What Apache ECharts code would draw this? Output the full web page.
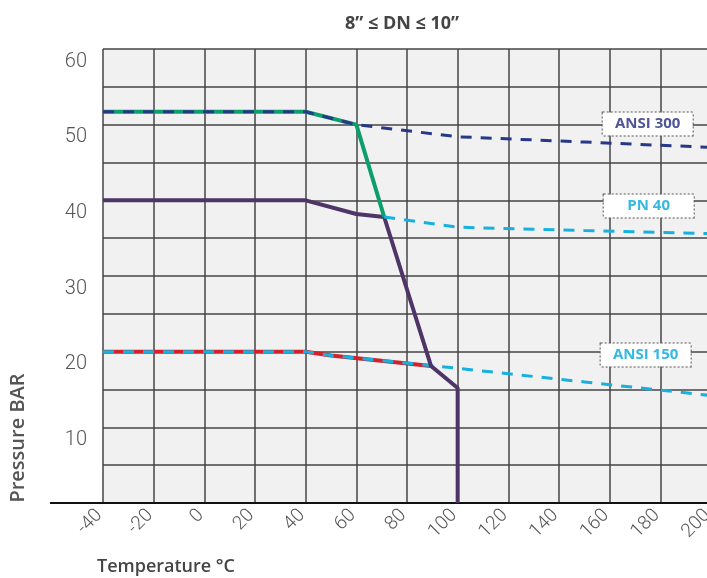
<!DOCTYPE html>
<html>
<head>
<meta charset="utf-8">
<script src="https://cdn.jsdelivr.net/npm/echarts@6/dist/echarts.min.js"></script>
<style>
  html, body { margin: 0; padding: 0; background: #fff; }
  #chart { width: 707px; height: 578px; }
</style>
</head>
<body>
<div id="chart"></div>
<script>
// pressure (bar) vs temperature (°C)
const ansi300 = [[-40, 51.7], [40, 51.7], [60, 50.0], [100, 48.4], [150, 47.7], [200, 47.0]];
const ansi300Solid = [[-40, 51.7], [40, 51.7], [60, 50.0], [71, 37.8]];
const seatLimit = [[-40, 40], [40, 40], [60, 38.2], [71, 37.8], [89.5, 18.1], [100, 15.2], [100, 0]];
const pn40 = [[71, 37.8], [100, 36.45], [150, 36.0], [200, 35.6]];
const ansi150 = [[-40, 20], [40, 20], [50, 19.5], [100, 17.8], [150, 16.0], [200, 14.2]];
const ansi150Solid = [[-40, 20], [40, 20], [50, 19.5], [89.5, 18.1]];

// where the name boxes sit (data coords)
const labelSpots = { 'ANSI 300': [175, 50.1], 'PN 40': [175.4, 39.25], 'ANSI 150': [174.2, 19.56] };

const font = 'Roboto, "Noto Sans", sans-serif';
const wideFont = '"Open Sans", Roboto, sans-serif';

// dotted box label on the right side
const boxLabel = (name, color) => ({
  symbol: 'rect',
  symbolSize: 0,
  silent: true,
  data: [{ coord: labelSpots[name] }],
  label: {
    show: true,
    position: 'inside',
    formatter: name,
    color: color,
    fontFamily: wideFont,
    fontWeight: 'bold',
    fontSize: 15,
    backgroundColor: '#fff',
    borderColor: '#555',
    borderWidth: 1,
    borderType: 'dotted',
    width: 90,
    lineHeight: 17,
    padding: [3, 0],
    align: 'center'
  }
});

const chart = echarts.init(document.getElementById('chart'));

const option = {
  animation: false,
  title: {
    text: '8” ≤ DN ≤ 10”',
    left: 397,
    top: 10,
    textAlign: 'center',
    textStyle: { fontFamily: wideFont, fontSize: 18, fontWeight: 'bold', color: '#444' }
  },
  grid: {
    left: 103,
    right: -4,
    top: 49,
    bottom: 75,
    outerBoundsMode: 'none',
    containLabel: false,
    show: true,
    backgroundColor: '#f1f1f1',
    borderWidth: 0
  },
  xAxis: {
    type: 'value',
    min: -40,
    max: 200,
    interval: 20,
    axisLine: { show: true, lineStyle: { color: '#111', width: 2 } },
    axisTick: { show: false },
    splitLine: { show: true, lineStyle: { color: '#444', width: 1.5 } },
    axisLabel: {
      rotate: 45,
      margin: 6,
      padding: [0, 5, 0, 0],
      fontFamily: font,
      fontWeight: 300,
      fontSize: 19,
      color: '#555',
      showMaxLabel: true
    }
  },
  yAxis: {
    type: 'value',
    min: 0,
    max: 60,
    interval: 5,
    axisLine: { show: false },
    axisTick: { show: false },
    splitLine: { show: true, lineStyle: { color: '#444', width: 1.5 } },
    axisLabel: {
      margin: 16,
      fontFamily: font,
      fontWeight: 300,
      fontSize: 20,
      color: '#555',
      verticalAlign: 'top',
      lineHeight: 25,
      formatter: v => (v > 0 && v % 10 === 0 ? String(v) : '')
    }
  },
  graphic: [
    {
      type: 'line',
      shape: { x1: 50, y1: 503, x2: 104, y2: 503 },
      style: { stroke: '#111', lineWidth: 2 }
    },
    {
      type: 'text',
      x: 18,
      y: 438,
      rotation: Math.PI / 2,
      style: {
        text: 'Pressure BAR',
        font: '600 20px ' + wideFont,
        fill: '#555',
        textAlign: 'center',
        textVerticalAlign: 'middle'
      }
    },
    {
      type: 'text',
      x: 97,
      y: 567,
      style: {
        text: 'Temperature °C',
        font: '600 18px ' + wideFont,
        fill: '#444',
        textAlign: 'left',
        textVerticalAlign: 'middle'
      }
    }
  ],
  series: [
    {
      name: 'ANSI 150 limit',
      type: 'line',
      data: ansi150Solid,
      symbol: 'none',
      lineStyle: { color: '#d3202a', width: 4 }
    },
    {
      name: 'ANSI 150',
      type: 'line',
      data: ansi150,
      symbol: 'none',
      lineStyle: { color: '#17b1de', width: 3, type: [11, 9] },
      markPoint: boxLabel('ANSI 150', '#35b9e3')
    },
    {
      name: 'Seat',
      type: 'line',
      data: seatLimit,
      symbol: 'none',
      lineStyle: { color: '#4e3567', width: 4 }
    },
    {
      name: 'ANSI 300 limit',
      type: 'line',
      data: ansi300Solid,
      symbol: 'none',
      lineStyle: { color: '#0e9d6d', width: 4 }
    },
    {
      name: 'ANSI 300',
      type: 'line',
      data: ansi300,
      symbol: 'none',
      lineStyle: { color: '#273887', width: 3, type: [11, 9] },
      markPoint: boxLabel('ANSI 300', '#4f5596')
    },
    {
      name: 'PN 40',
      type: 'line',
      data: pn40,
      symbol: 'none',
      lineStyle: { color: '#17b1de', width: 3, type: [11, 9] },
      markPoint: boxLabel('PN 40', '#35b9e3')
    }
  ]
};

chart.setOption(option);
</script>
</body>
</html>
